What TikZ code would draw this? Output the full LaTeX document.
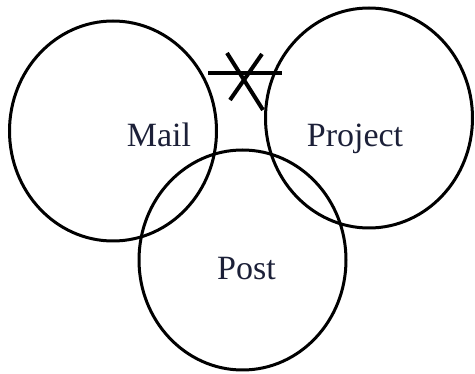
\documentclass[tikz,border=0pt]{standalone}
\usepackage{fontspec}
\setmainfont{Liberation Serif}
\usetikzlibrary{shapes.geometric}
\definecolor{txt}{RGB}{28,32,56}
\tikzset{
  setbox/.style={ellipse, draw=black, line width=3pt, minimum width=207pt, minimum height=220pt, inner sep=0pt},
  setlabel/.style={anchor=base, text=txt, font=\fontsize{34}{34}\selectfont, inner sep=0pt},
  xmark/.style={line width=4pt, draw=black}
}
\begin{document}
\begin{tikzpicture}[x=1pt,y=-1pt]
\useasboundingbox (0,0) rectangle (475,374);
\node[setbox] (mail) at (113,131) {};
\node[setbox] (project) at (369,118) {};
\node[setbox] (post) at (242.5,260) {};
\node[setlabel] (maillbl) at (159,147) {Mail};
\node[setlabel] (projlbl) at (355,147) {Project};
\node[setlabel] (postlbl) at (246.5,280) {Post};
\coordinate (hA) at (208,73);
\coordinate (hB) at (282,73);
\coordinate (dA) at (227,53);
\coordinate (dB) at (263,110);
\coordinate (eA) at (262,54);
\coordinate (eB) at (230,100);
\draw[xmark] (hA) -- (hB);
\draw[xmark] (dA) -- (dB);
\draw[xmark] (eA) -- (eB);
\end{tikzpicture}
\end{document}
